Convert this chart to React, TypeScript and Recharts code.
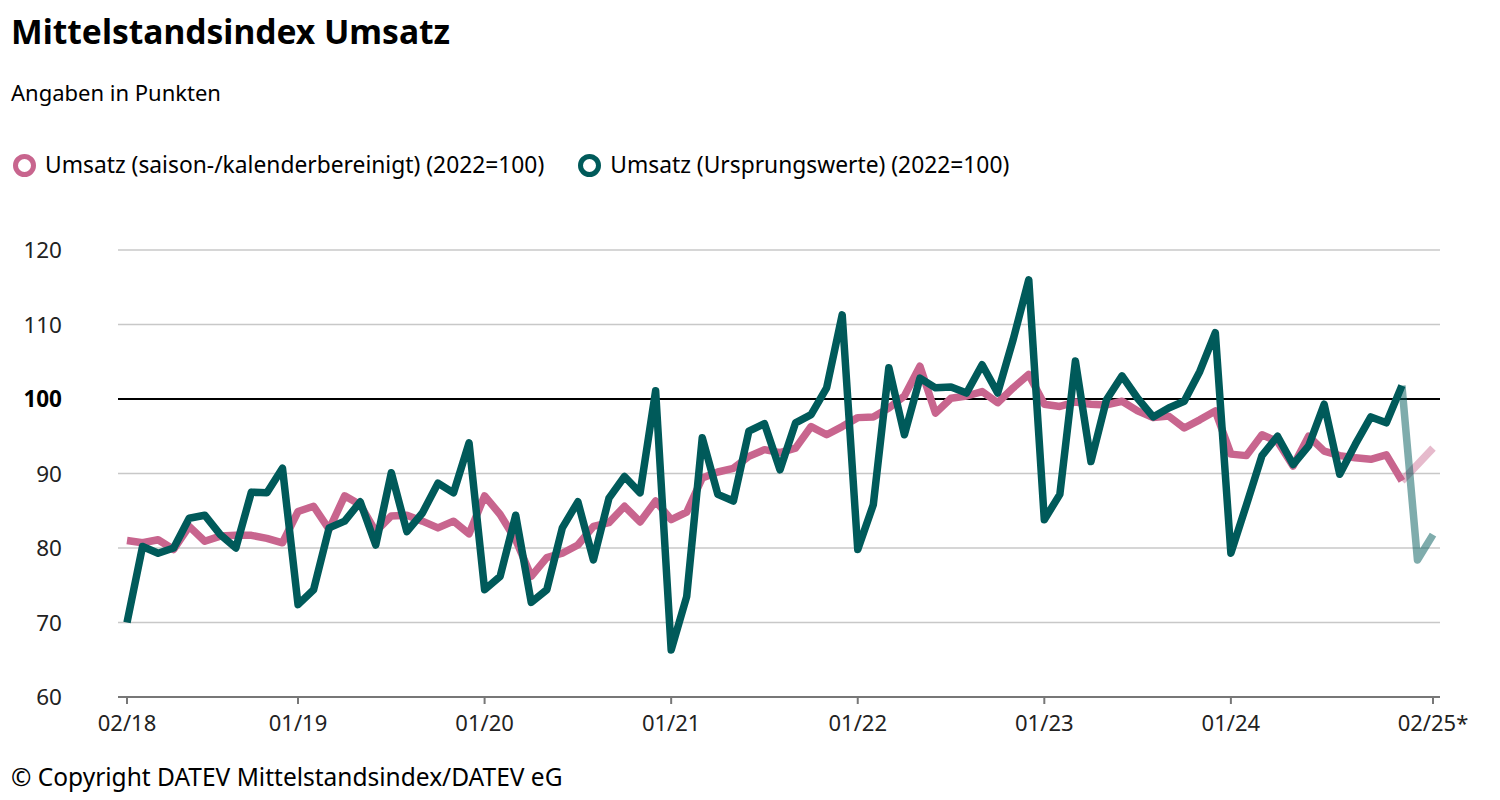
import React from "react";
import { CartesianGrid, Line, LineChart, ReferenceLine, XAxis, YAxis } from "recharts";

const FONT = "'Noto Sans', 'Open Sans', sans-serif";

// months 02/18 .. 02/25 (last two values preliminary)
const months = [
  "02/18", "03/18", "04/18", "05/18", "06/18", "07/18", "08/18", "09/18", "10/18", "11/18", "12/18",
  "01/19", "02/19", "03/19", "04/19", "05/19", "06/19", "07/19", "08/19", "09/19", "10/19", "11/19", "12/19",
  "01/20", "02/20", "03/20", "04/20", "05/20", "06/20", "07/20", "08/20", "09/20", "10/20", "11/20", "12/20",
  "01/21", "02/21", "03/21", "04/21", "05/21", "06/21", "07/21", "08/21", "09/21", "10/21", "11/21", "12/21",
  "01/22", "02/22", "03/22", "04/22", "05/22", "06/22", "07/22", "08/22", "09/22", "10/22", "11/22", "12/22",
  "01/23", "02/23", "03/23", "04/23", "05/23", "06/23", "07/23", "08/23", "09/23", "10/23", "11/23", "12/23",
  "01/24", "02/24", "03/24", "04/24", "05/24", "06/24", "07/24", "08/24", "09/24", "10/24", "11/24", "12/24",
  "01/25", "02/25*",
];

// Umsatz (saison-/kalenderbereinigt)
const saisonbereinigt = [
  81.0, 80.7, 81.1, 79.8, 82.9, 80.9, 81.6, 81.7, 81.7, 81.3, 80.7,
  84.9, 85.6, 82.5, 87.0, 85.8, 82.2, 84.3, 84.4, 83.6, 82.7, 83.6, 81.9,
  87.0, 84.5, 81.1, 76.2, 78.7, 79.3, 80.4, 82.9, 83.4, 85.6, 83.5, 86.3,
  83.8, 84.8, 89.4, 90.2, 90.7, 92.3, 93.2, 92.8, 93.4, 96.3, 95.2, 96.3,
  97.5, 97.6, 98.8, 100.4, 104.4, 98.1, 100.1, 100.4, 101.0, 99.5, 101.5, 103.3,
  99.3, 99.0, 99.6, 99.3, 99.2, 99.7, 98.4, 97.5, 97.7, 96.1, 97.2, 98.4,
  92.6, 92.4, 95.2, 94.3, 91.0, 95.0, 93.0, 92.4, 92.1, 91.9, 92.5, 89.0,
  91.2, 93.4,
];

// Umsatz (Ursprungswerte)
const ursprungswerte = [
  70.0, 80.2, 79.3, 80.0, 84.0, 84.4, 81.8, 80.0, 87.5, 87.4, 90.7,
  72.4, 74.4, 82.7, 83.6, 86.2, 80.4, 90.1, 82.2, 84.7, 88.7, 87.4, 94.1,
  74.4, 76.2, 84.4, 72.7, 74.4, 82.7, 86.2, 78.4, 86.7, 89.6, 87.4, 101.1,
  66.3, 73.5, 94.8, 87.2, 86.3, 95.7, 96.7, 90.5, 96.8, 97.9, 101.5, 111.3,
  79.8, 85.8, 104.2, 95.2, 102.8, 101.5, 101.6, 100.8, 104.6, 100.8, 108.0, 116.0,
  83.8, 87.2, 105.1, 91.6, 99.9, 103.1, 100.1, 97.6, 98.8, 99.7, 103.7, 108.9,
  79.3, 85.8, 92.4, 95.0, 91.2, 93.7, 99.3, 89.9, 93.9, 97.6, 96.8, 101.8,
  78.4, 81.8,
];

const tickIndex = [0, 11, 23, 35, 47, 59, 71, 84];
const yTicks = [60, 70, 80, 90, 100, 110, 120];

const lastFinal = 82; // from here on the line is drawn light

const PINK = "#c8658e";
const GREEN = "#005a5a";

const data = months.map((m, i) => ({
  i,
  month: m,
  sa: i <= lastFinal ? saisonbereinigt[i] : null,
  saLight: i >= lastFinal ? saisonbereinigt[i] : null,
  orig: i <= lastFinal ? ursprungswerte[i] : null,
  origLight: i >= lastFinal ? ursprungswerte[i] : null,
}));

const YTick = (props: any) => {
  const { x, y, payload } = props;
  const bold = payload.value === 100;
  return (
    <text x={x} y={y} dy={8} textAnchor="end" fontSize={22.5} fontFamily={FONT}
      fontWeight={bold ? 700 : 400} fill={bold ? "#000" : "#222"}>
      {payload.value}
    </text>
  );
};

const Ring = ({ color }: { color: string }) => (
  <span style={{
    display: "inline-block", width: 13, height: 13, borderRadius: "50%",
    border: `5.5px solid ${color}`, marginRight: 9, verticalAlign: "middle",
  }} />
);

export default function App() {
  return (
    <div style={{ position: "absolute", left: 0, top: 0, width: 1500, height: 800, background: "#fff", fontFamily: FONT, color: "#000" }}>
      <div style={{ position: "absolute", left: 11, top: 8, fontSize: 33.6, fontWeight: 700, lineHeight: "46px" }}>
        Mittelstandsindex Umsatz
      </div>
      <div style={{ position: "absolute", left: 11, top: 77, fontSize: 22, lineHeight: "30px" }}>
        Angaben in Punkten
      </div>
      <div style={{ position: "absolute", left: 13, top: 149, fontSize: 22.8, lineHeight: "32px", display: "flex", alignItems: "center" }}>
        <span style={{ display: "flex", alignItems: "center" }}>
          <Ring color={PINK} />Umsatz (saison-/kalenderbereinigt) (2022=100)
        </span>
        <span style={{ display: "flex", alignItems: "center", marginLeft: 34 }}>
          <Ring color={GREEN} />Umsatz (Ursprungswerte) (2022=100)
        </span>
      </div>

      <div style={{ position: "absolute", left: 0, top: 200 }}>
        <LineChart width={1500} height={560} data={data} margin={{ top: 50, right: 60, left: 0, bottom: 0 }}>
          <CartesianGrid horizontal vertical={false} stroke="#c8c8c8" strokeWidth={1.5} />
          <XAxis
            dataKey="i"
            type="number"
            domain={[0, 84]}
            ticks={tickIndex}
            tickFormatter={(v: number) => months[v]}
            padding={{ left: 9, right: 7 }}
            height={63}
            stroke="#777"
            strokeWidth={2}
            tickSize={7}
            tickMargin={11}
            tick={{ fill: "#222", fontSize: 22, fontFamily: FONT }}
          />
          <YAxis
            domain={[60, 120]}
            ticks={yTicks}
            width={118}
            axisLine={false}
            tickLine={false}
            tickSize={0}
            tickMargin={56}
            tick={<YTick />}
          />
          <ReferenceLine y={100} stroke="#000" strokeWidth={2} />
          <Line dataKey="sa" stroke={PINK} strokeWidth={7.5} dot={false} strokeLinejoin="round" isAnimationActive={false} />
          <Line dataKey="saLight" stroke={PINK} strokeOpacity={0.45} strokeWidth={7.5} dot={false} strokeLinejoin="round" isAnimationActive={false} />
          <Line dataKey="orig" stroke={GREEN} strokeWidth={7.5} dot={false} strokeLinejoin="round" isAnimationActive={false} />
          <Line dataKey="origLight" stroke={GREEN} strokeOpacity={0.5} strokeWidth={7.5} dot={false} strokeLinejoin="round" isAnimationActive={false} />
        </LineChart>
      </div>

      <div style={{ position: "absolute", left: 11, top: 760, fontSize: 24.5, lineHeight: "34px" }}>
        © Copyright DATEV Mittelstandsindex/DATEV eG
      </div>
    </div>
  );
}
